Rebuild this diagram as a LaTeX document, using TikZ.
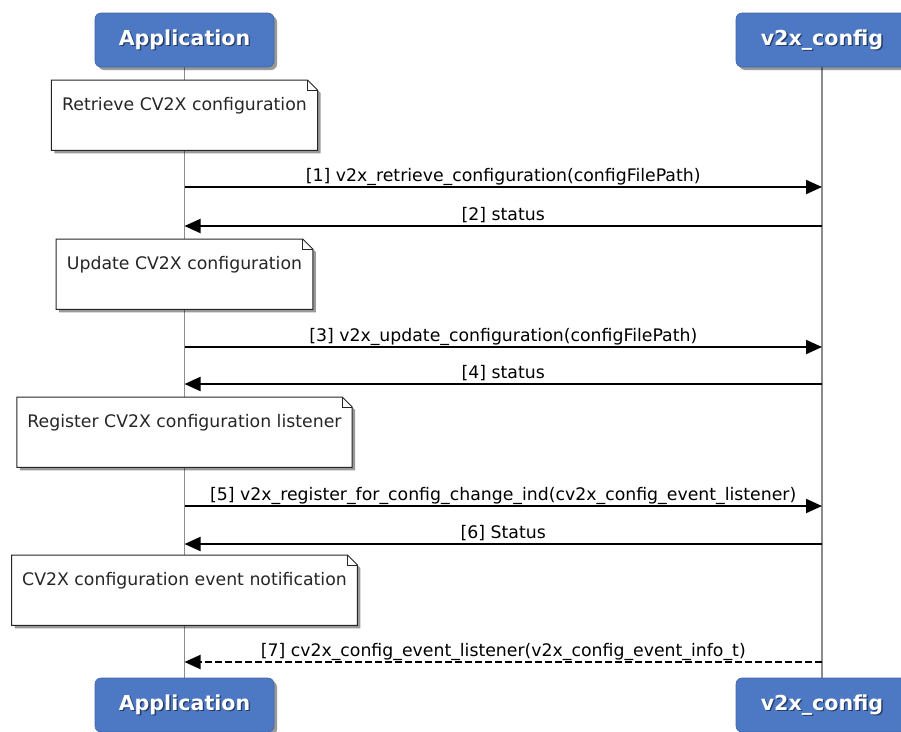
\documentclass[tikz,border=0pt]{standalone}
\usepackage{fontspec}
\setmainfont{DejaVu Sans}
\usetikzlibrary{arrows.meta,shadows}
\definecolor{hdr}{RGB}{76,120,196}
\pgfdeclarelayer{lifelayer}
\pgfdeclarelayer{notelayer}
\pgfsetlayers{lifelayer,notelayer,main}
\newcommand\notefont{\fontsize{17.3}{20}\selectfont}
\newcommand\hdrfont{\fontsize{20.6}{24}\selectfont\bfseries}
\newcommand\foldnote[1]{%
  \begin{pgfonlayer}{notelayer}
  \path[notebody] (#1.north west) -- ([xshift=-10pt]#1.north east) -- ([yshift=-10pt]#1.north east) -- (#1.south east) -- (#1.south west) -- cycle;
  \draw[noteline] ([xshift=-10pt]#1.north east) |- ([yshift=-10pt]#1.north east);
  \end{pgfonlayer}}
\begin{document}
\begin{tikzpicture}[x=1pt,y=-1pt,
  hdrbox/.style={rounded corners=6pt, fill=hdr, draw=hdr!85!black, line width=0.6pt,
    minimum height=54pt, inner sep=0pt,
    drop shadow={shadow xshift=3pt,shadow yshift=-3pt,opacity=0.4,fill=black}},
  hdrtext/.style={font=\hdrfont, text=white, inner sep=0pt},
  hdrshadowtext/.style={font=\hdrfont, text=black, opacity=0.5, inner sep=0pt},
  lifeline/.style={draw=black!45, line width=1.6pt},
  notetext/.style={font=\notefont, text=black!85, anchor=north, text height=15pt, text depth=25pt, inner ysep=15pt, inner xsep=10.5pt},
  notebody/.style={fill=white, draw=black!85, line width=1pt,
    drop shadow={shadow xshift=3pt,shadow yshift=-3pt,opacity=0.4,fill=black}},
  noteline/.style={draw=black!85, line width=0.8pt},
  msg/.style={-{Triangle[length=16pt,width=14pt]}, line width=2pt, draw=black},
  retmsg/.style={msg, dash pattern=on 7pt off 3pt},
  lbl/.style={font=\notefont, text=black, anchor=base, yshift=6pt, inner sep=0pt}
]
\useasboundingbox (0,0) rectangle (901,731);

% headers
\node[hdrbox, minimum width=179pt] (appTop) at (184.5,40) {};
\node[hdrbox, minimum width=172pt] (cfgTop) at (822,40) {};
\node[hdrbox, minimum width=179pt] (appBot) at (184.5,705) {};
\node[hdrbox, minimum width=172pt] (cfgBot) at (822,705) {};
\foreach \n/\t in {appTop/Application, cfgTop/v2x\_config, appBot/Application, cfgBot/v2x\_config}{
  \node[hdrshadowtext] at ([xshift=1.3pt,yshift=-1.3pt]\n.center) {\t};
  \node[hdrtext] at (\n.center) {\t};
}

% lifelines
\begin{pgfonlayer}{lifelayer}
\draw[lifeline] (appTop.south) -- (appBot.north);
\draw[lifeline] (cfgTop.south) -- (cfgBot.north);
\end{pgfonlayer}

% lifeline points
\foreach \i/\y in {1/187,2/226,3/347,4/384,5/506,6/544,7/662}{
  \coordinate (a\i) at (184.5,\y);
  \coordinate (c\i) at (822,\y);
}

% notes
\node[notetext] (n1) at (184.5,80) {Retrieve CV2X configuration};
\foldnote{n1}
\node[notetext] (n2) at (184.5,239) {Update CV2X configuration};
\foldnote{n2}
\node[notetext] (n3) at (184.5,397) {Register CV2X configuration listener};
\foldnote{n3}
\node[notetext] (n4) at (184.5,555) {CV2X configuration event notification};
\foldnote{n4}

% messages
\draw[msg] (a1) -- node[lbl] {[1] v2x\_retrieve\_configuration(configFilePath)} (c1);
\draw[msg] (c2) -- node[lbl] {[2] status} (a2);
\draw[msg] (a3) -- node[lbl] {[3] v2x\_update\_configuration(configFilePath)} (c3);
\draw[msg] (c4) -- node[lbl] {[4] status} (a4);
\draw[msg] (a5) -- node[lbl] {[5] v2x\_register\_for\_config\_change\_ind(cv2x\_config\_event\_listener)} (c5);
\draw[msg] (c6) -- node[lbl] {[6] Status} (a6);
\draw[retmsg] (c7) -- node[lbl] {[7] cv2x\_config\_event\_listener(v2x\_config\_event\_info\_t)} (a7);
\end{tikzpicture}
\end{document}
